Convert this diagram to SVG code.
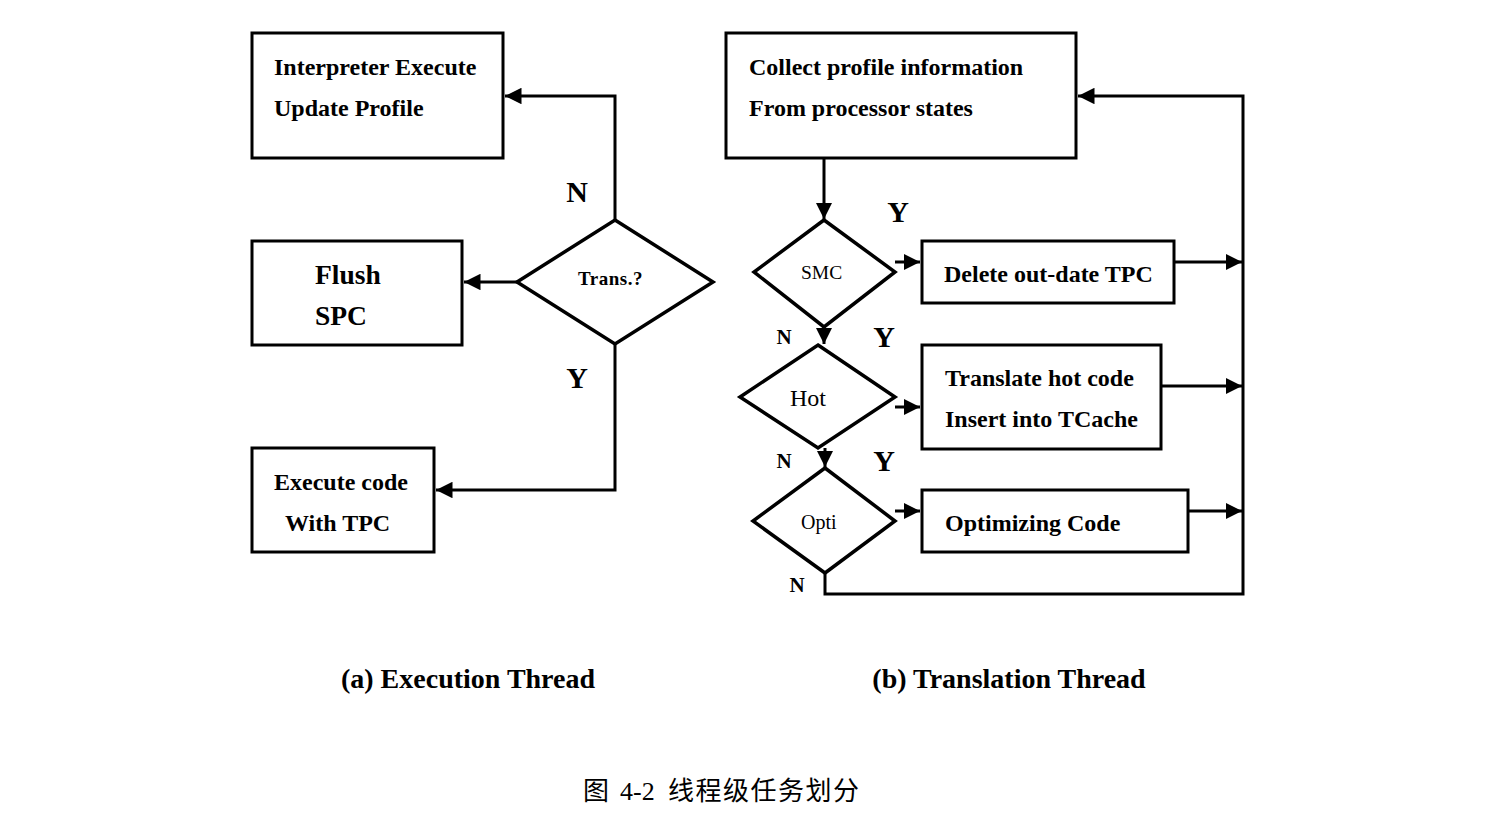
<svg xmlns="http://www.w3.org/2000/svg" width="1492" height="824" viewBox="0 0 1492 824">
<style>
.box{fill:#fff;stroke:#000;stroke-width:3}
.dia{fill:#fff;stroke:#000;stroke-width:3.5}
.ln{fill:none;stroke:#000;stroke-width:3}
.t{font-family:"Liberation Serif","Times New Roman",serif;fill:#000}
.b{font-weight:bold}
.m{font-size:24px}
</style>
<defs>
<marker id="a" viewBox="0 0 10 10" refX="10" refY="5" markerWidth="5.5" markerHeight="5.5" orient="auto"><path d="M0,0 L10,5 L0,10 z" fill="#000"/></marker>
</defs>
<rect width="1492" height="824" fill="#fff"/>
<g id="connectors">
<polyline class="ln" points="615,220 615,96 505,96" marker-end="url(#a)"/>
<line class="ln" x1="517" y1="282" x2="464" y2="282" marker-end="url(#a)"/>
<polyline class="ln" points="615,344 615,490 436,490" marker-end="url(#a)"/>
<line class="ln" x1="824" y1="158" x2="824" y2="219" marker-end="url(#a)"/>
<line class="ln" x1="895" y1="262" x2="920" y2="262" marker-end="url(#a)"/>
<line class="ln" x1="824" y1="327" x2="824" y2="344" marker-end="url(#a)"/>
<line class="ln" x1="895" y1="407" x2="920" y2="407" marker-end="url(#a)"/>
<line class="ln" x1="825" y1="448" x2="825" y2="467" marker-end="url(#a)"/>
<line class="ln" x1="895" y1="511" x2="920" y2="511" marker-end="url(#a)"/>
<polyline class="ln" points="825,573 825,594 1243,594 1243,96 1078,96" marker-end="url(#a)"/>
<line class="ln" x1="1174" y1="262" x2="1242" y2="262" marker-end="url(#a)"/>
<line class="ln" x1="1161" y1="386" x2="1242" y2="386" marker-end="url(#a)"/>
<line class="ln" x1="1188" y1="511" x2="1242" y2="511" marker-end="url(#a)"/>
</g>
<g id="interp">
<rect class="box" x="252" y="33" width="251" height="125"/>
<text class="t b m" x="274" y="75">Interpreter Execute</text>
<text class="t b m" x="274" y="116">Update Profile</text>
</g>
<g id="flush">
<rect class="box" x="252" y="241" width="210" height="104"/>
<text class="t b" x="315" y="284" font-size="27.5">Flush</text>
<text class="t b" x="315" y="325" font-size="27.5">SPC</text>
</g>
<g id="exec">
<rect class="box" x="252" y="448" width="182" height="104"/>
<text class="t b m" x="274" y="490">Execute code</text>
<text class="t b m" x="285" y="531">With TPC</text>
</g>
<g id="trans">
<polygon class="dia" points="615,220 713,282 615,344 517,282"/>
<text class="t b" x="578" y="285" font-size="19" letter-spacing="0.5">Trans.?</text>
</g>
<g id="collect">
<rect class="box" x="726" y="33" width="350" height="125"/>
<text class="t b m" x="749" y="75">Collect profile information</text>
<text class="t b m" x="749" y="116">From processor states</text>
</g>
<g id="smc">
<polygon class="dia" points="824,220 895,272 824,327 754,272"/>
<text class="t" x="801" y="279" font-size="19.5">SMC</text>
</g>
<g id="delete">
<rect class="box" x="922" y="241" width="252" height="62"/>
<text class="t b m" x="944" y="282">Delete out-date TPC</text>
</g>
<g id="hot">
<polygon class="dia" points="818,345 895,397 818,448 740,397"/>
<text class="t" x="790" y="406" font-size="24">Hot</text>
</g>
<g id="translate">
<rect class="box" x="922" y="345" width="239" height="104"/>
<text class="t b m" x="945" y="386">Translate hot code</text>
<text class="t b m" x="945" y="427">Insert into TCache</text>
</g>
<g id="opti">
<polygon class="dia" points="825,468 895,521 825,573 753,521"/>
<text class="t" x="801" y="529" font-size="20">Opti</text>
</g>
<g id="optimizing">
<rect class="box" x="922" y="490" width="266" height="62"/>
<text class="t b m" x="945" y="531">Optimizing Code</text>
</g>
<g id="labels">
<text class="t b" x="577" y="202" font-size="30" text-anchor="middle">N</text>
<text class="t b" x="577" y="388" font-size="30" text-anchor="middle">Y</text>
<text class="t b" x="898" y="222" font-size="30" text-anchor="middle">Y</text>
<text class="t b" x="884" y="347" font-size="30" text-anchor="middle">Y</text>
<text class="t b" x="884" y="471" font-size="30" text-anchor="middle">Y</text>
<text class="t b" x="784" y="344" font-size="21" text-anchor="middle">N</text>
<text class="t b" x="784" y="468" font-size="21" text-anchor="middle">N</text>
<text class="t b" x="797" y="592" font-size="21" text-anchor="middle">N</text>
<text class="t b" x="468" y="688" font-size="28" text-anchor="middle">(a) Execution Thread</text>
<text class="t b" x="1009" y="688" font-size="28" text-anchor="middle">(b) Translation Thread</text>
<text x="583" y="800" font-size="26" font-family="'Liberation Serif','Noto Sans CJK SC',serif">图</text>
<text x="620" y="800" font-size="26" font-family="'Liberation Serif','Noto Sans CJK SC',serif">4-2</text>
<text x="668" y="800" font-size="26" letter-spacing="1.5" font-family="'Liberation Serif','Noto Sans CJK SC',serif">线程级任务划分</text>
</g>
</svg>
